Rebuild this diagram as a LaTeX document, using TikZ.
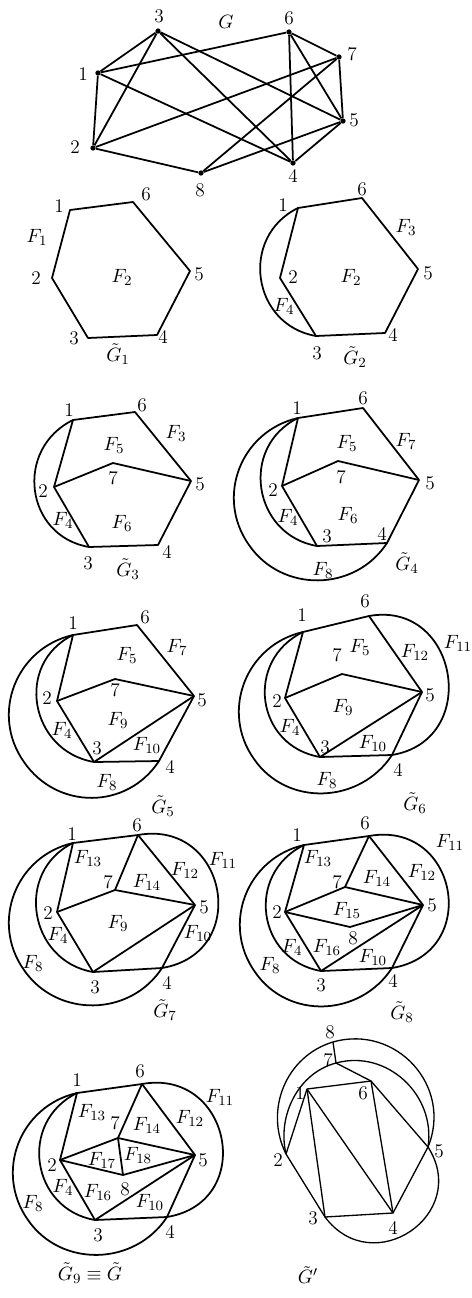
\documentclass[tikz,border=0pt]{standalone}
\usetikzlibrary{calc}
\tikzset{
  edge/.style={line width=1pt, line join=round},
  thinedge/.style={line width=0.75pt, line join=round},
  lab/.style={font=\fontsize{11}{13}\selectfont, inner sep=0pt},
  dot/.style={circle, fill, inner sep=0pt, minimum size=3pt},
}

\begin{document}
\begin{tikzpicture}[x=0.02cm, y=-0.02cm]
  \useasboundingbox (0,0) rectangle (472,1298);

  % graph G
  \foreach \n/\x/\y in {1/98/73, 2/93/148, 3/158/31, 4/293/163, 5/343/121, 6/289/32, 7/339/57, 8/201/173}
    \node[dot] (G\n) at (\x,\y) {};
  \foreach \a/\b in {3/1, 3/2, 3/4, 3/5, 1/6, 1/2, 1/4, 6/4, 6/7, 6/5, 7/5, 7/2, 7/8, 2/8, 8/5, 4/5}
    \draw[edge] (G\a) -- (G\b);
  \foreach \n/\x/\y in {1/83/74, 2/75/147, 3/159/16, 4/293/176, 5/354/120, 6/289/18, 7/352/54, 8/200/190}
    \node[lab] (Gl\n) at (\x,\y) {\n};
  \node[lab] (Gname) at (226,22) {$G$};

  % vertices of the steps
  \foreach \n/\x/\y in {1/70/210, 6/133/202, 5/190/271, 4/157/335, 3/88/338, 2/52/278}
    \coordinate (P1-\n) at (\x,\y);
  \foreach \n/\x/\y in {1/298/208, 6/362/198, 5/418/269, 4/385/333, 3/316/336, 2/280/278}
    \coordinate (P2-\n) at (\x,\y);
  \foreach \n/\x/\y in {1/73/420, 6/135/412, 5/191/481, 4/158/545, 3/89/547, 2/54/487, 7/113/463}
    \coordinate (P3-\n) at (\x,\y);
  \foreach \n/\x/\y in {1/298/418, 6/363/408, 5/419/480, 4/387/543, 3/317/546, 2/282/486, 7/338/461}
    \coordinate (P4-\n) at (\x,\y);
  \foreach \n/\x/\y in {1/73/635, 6/137/625, 5/194/696, 4/159/761, 3/94/762, 2/57/701, 7/115/679}
    \coordinate (P5-\n) at (\x,\y);
  \foreach \n/\x/\y in {1/303/632, 6/369/616, 5/422/692, 4/392/755, 3/320/757, 2/285/698, 7/342/674}
    \coordinate (P6-\n) at (\x,\y);
  \foreach \n/\x/\y in {1/73/843, 6/138/835, 5/195/905, 4/162/968, 3/93/972, 2/57/912, 7/115/890}
    \coordinate (P7-\n) at (\x,\y);
  \foreach \n/\x/\y in {1/304/845, 6/369/836, 5/423/905, 4/392/968, 3/321/971, 2/285/912, 7/345/887, 8/350/927}
    \coordinate (P8-\n) at (\x,\y);
  \foreach \n/\x/\y in {1/77/1093, 6/142/1084, 5/195/1155, 4/167/1217, 3/95/1220, 2/60/1160, 7/118/1138, 8/123/1175}
    \coordinate (P9-\n) at (\x,\y);

  % edges added step by step
  \foreach \p in {1,...,9}
    \draw[edge] (P\p-1) -- (P\p-6) -- (P\p-5) -- (P\p-4) -- (P\p-3) -- (P\p-2) -- cycle;
  \foreach \p in {2,...,9}
    \draw[edge] (P\p-1) .. controls ($(P\p-1)+(-59,29)$) and ($(P\p-3)+(-64,-11)$) .. (P\p-3);
  \foreach \p in {3,...,9}
    \draw[edge] (P\p-2) -- (P\p-7) -- (P\p-5);
  \foreach \p in {4,...,9}
    \draw[edge] (P\p-1) .. controls ($(P\p-1)+(-57,13)$) and ($(P\p-1)+(-83,79)$) .. ($(P\p-1)+(-49,127)$)
      .. controls ($(P\p-1)+(-16,175)$) and ($(P\p-4)+(-32,49)$) .. (P\p-4);
  \foreach \p in {5,...,9}
    \draw[edge] (P\p-3) -- (P\p-5);
  \foreach \p in {6,...,9}
    \draw[edge] (P\p-6) .. controls ($(P\p-6)+(89,-16)$) and ($(P\p-4)+(90,-15)$) .. (P\p-4);
  \foreach \p in {7,8,9}
    \draw[edge] (P\p-7) -- (P\p-6);
  \foreach \p in {8,9}
    \draw[edge] (P\p-2) -- (P\p-8) -- (P\p-5);
  \draw[edge] (P9-7) -- (P9-8);

  % vertex labels
  \foreach \n/\x/\y in {1/59/206, 6/146/194, 5/199/274, 4/163/337, 3/74/338, 2/36/278}
    \node[lab] (P1-l\n) at (\x,\y) {\n};
  \foreach \n/\x/\y in {1/283/205, 6/362/189, 5/428/273, 4/393/335, 3/317/353, 2/293/277}
    \node[lab] (P2-l\n) at (\x,\y) {\n};
  \foreach \n/\x/\y in {1/69/410, 6/142/405, 5/200/484, 4/167/552, 3/88/563, 2/43/491, 7/113/478}
    \node[lab] (P3-l\n) at (\x,\y) {\n};
  \foreach \n/\x/\y in {1/297/408, 6/363/398, 5/430/483, 4/382/534, 3/327/536, 2/273/490, 7/341/477}
    \node[lab] (P4-l\n) at (\x,\y) {\n};
  \foreach \n/\x/\y in {1/73/623, 6/145/617, 5/202/700, 4/170/767, 3/97/748, 2/47/698, 7/115/690}
    \node[lab] (P5-l\n) at (\x,\y) {\n};
  \foreach \n/\x/\y in {1/302/615, 6/365/601, 5/430/695, 4/398/770, 3/325/747, 2/277/701, 7/337/655}
    \node[lab] (P6-l\n) at (\x,\y) {\n};
  \foreach \n/\x/\y in {1/72/834, 6/137/825, 5/204/907, 4/167/983, 3/95/987, 2/48/913, 7/108/882}
    \node[lab] (P7-l\n) at (\x,\y) {\n};
  \foreach \n/\x/\y in {1/297/835, 6/365/823, 5/432/905, 4/393/981, 3/321/985, 2/277/912, 7/337/882, 8/353/938}
    \node[lab] (P8-l\n) at (\x,\y) {\n};
  \foreach \n/\x/\y in {1/77/1080, 6/140/1071, 5/203/1160, 4/170/1232, 3/98/1235, 2/52/1165, 7/115/1123, 8/125/1189}
    \node[lab] (P9-l\n) at (\x,\y) {\n};

  % faces
  \foreach \k/\x/\y in {1/37/237, 2/122/277}
    \node[lab] (P1-F\k) at (\x,\y) {$F_{\k}$};
  \foreach \k/\x/\y in {3/406/227, 2/351/277, 4/284/306}
    \node[lab] (P2-F\k) at (\x,\y) {$F_{\k}$};
  \foreach \k/\x/\y in {3/176/433, 5/114/445, 6/122/523, 4/63/520}
    \node[lab] (P3-F\k) at (\x,\y) {$F_{\k}$};
  \foreach \k/\x/\y in {5/347/443, 7/406/441, 6/348/515, 4/288/517, 8/323/570}
    \node[lab] (P4-F\k) at (\x,\y) {$F_{\k}$};
  \foreach \k/\x/\y in {5/127/655, 7/177/647, 9/118/720, 4/62/730, 10/147/745, 8/107/782}
    \node[lab] (P5-F\k) at (\x,\y) {$F_{\k}$};
  \foreach \k/\x/\y in {5/360/647, 12/415/652, 11/458/643, 9/343/707, 4/290/727, 10/373/743, 8/327/780}
    \node[lab] (P6-F\k) at (\x,\y) {$F_{\k}$};
  \foreach \k/\x/\y in {13/88/858, 14/147/882, 12/185/870, 11/223/860, 9/118/923, 4/58/935, 10/198/933, 8/33/963}
    \node[lab] (P7-F\k) at (\x,\y) {$F_{\k}$};
  \foreach \k/\x/\y in {13/318/858, 14/377/878, 12/422/872, 11/450/842, 15/347/910, 16/327/947, 4/292/947, 10/373/957, 8/270/965}
    \node[lab] (P8-F\k) at (\x,\y) {$F_{\k}$};
  \foreach \k/\x/\y in {13/92/1112, 14/147/1125, 12/190/1118, 11/220/1097, 17/102/1160, 18/138/1155, 4/63/1187, 16/98/1192, 10/150/1202, 8/33/1203}
    \node[lab] (P9-F\k) at (\x,\y) {$F_{\k}$};

  % captions
  \foreach \p/\x/\y in {1/118/354, 2/355/357, 3/128/569, 4/407/563, 5/163/806, 6/415/803, 7/165/1010, 8/402/1012}
    \node[lab] (P\p-cap) at (\x,\y) {$\tilde G_{\p}$};
  \node[lab] (P9-cap) at (90,1273) {$\tilde G_9 \equiv \tilde G$};

  % other embedding
  \foreach \n/\x/\y in {1/307/1089, 6/371/1081, 5/428/1147, 4/393/1213, 3/325/1217, 2/286/1154, 7/336/1063, 8/333/1042}
    \coordinate (Q\n) at (\x,\y);
  \draw[thinedge] (Q1) -- (Q6) -- (Q5) -- (Q4) -- (Q3) -- (Q2) -- cycle;
  \draw[thinedge] (Q1) -- (Q3);
  \draw[thinedge] (Q1) -- (Q4);
  \draw[thinedge] (Q6) -- (Q4);
  \draw[thinedge] (Q7) -- (Q6);
  \draw[thinedge] (Q8) -- (Q7);
  \draw[thinedge] (Q8) .. controls ($(Q8)+(-47,14)$) and ($(Q2)+(-22,-44)$) .. (Q2);
  \draw[thinedge] (Q8) .. controls ($(Q8)+(63,-18)$) and ($(Q5)+(25,-61)$) .. (Q5);
  \draw[thinedge] (Q7) .. controls ($(Q7)+(-38,10)$) and ($(Q2)+(-9,-38)$) .. (Q2);
  \draw[thinedge] (Q7) .. controls ($(Q7)+(51,-14)$) and ($(Q5)+(8,-52)$) .. (Q5);
  \draw[thinedge] (Q3) .. controls ($(Q3)+(48,64)$) and ($(Q5)+(43,67)$) .. (Q5);
  \foreach \n/\x/\y in {1/300/1093, 6/363/1093, 5/439/1151, 4/393/1228, 3/313/1218, 2/278/1160, 7/328/1060, 8/330/1032}
    \node[lab] (Ql\n) at (\x,\y) {\n};
  \node[lab] (Qcap) at (308,1275) {$\tilde G'$};
\end{tikzpicture}
\end{document}
